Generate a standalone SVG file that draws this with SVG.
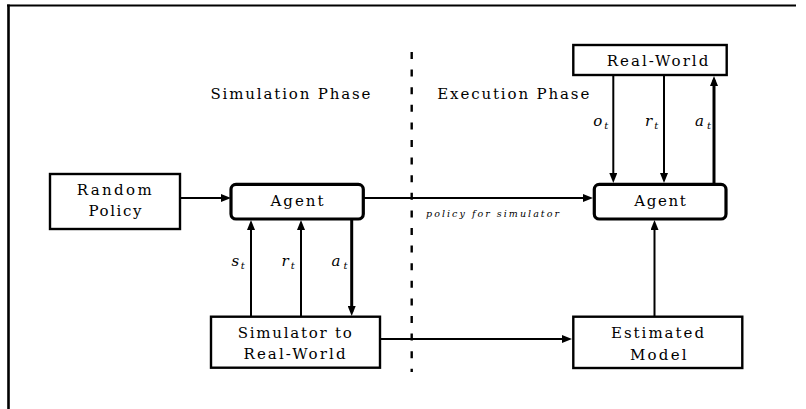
<svg xmlns="http://www.w3.org/2000/svg" width="806" height="409" viewBox="0 0 806 409">
  <style>
    .box { fill: #fff; stroke: #000; stroke-width: 2.4; }
    .agent { fill: #fff; stroke: #000; stroke-width: 3.2; }
    .lbl { font-family: "DejaVu Serif", "Liberation Serif", serif; font-size: 15px; fill: #000; text-anchor: middle; }
    .math { font-family: "DejaVu Serif", "Liberation Serif", serif; font-style: italic; font-size: 15px; fill: #000; }
    .sub { font-size: 10px; }
    .note { font-family: "DejaVu Serif", "Liberation Serif", serif; font-style: italic; font-size: 9.5px; fill: #000; }
    .wire { stroke: #000; stroke-width: 2; fill: none; }
    .wire.heavy { stroke-width: 3; }
    .frame { stroke: #000; fill: none; }
    .divider { stroke: #000; stroke-width: 2.4; stroke-dasharray: 7 10.6; fill: none; }
  </style>
  <defs>
    <marker id="head" markerUnits="userSpaceOnUse" markerWidth="10" markerHeight="8" refX="6" refY="4" orient="auto">
      <path d="M0,0 L10,4 L0,8 z" fill="#000"/>
    </marker>
  </defs>

  <rect x="0" y="0" width="806" height="409" fill="#fff"/>

  <!-- outer frame: top and left edges -->
  <g id="frame">
    <line class="frame" x1="7" y1="5.5" x2="796" y2="5.5" stroke-width="2"/>
    <line class="frame" x1="8.5" y1="4.5" x2="8.5" y2="409" stroke-width="2.6"/>
  </g>

  <!-- phase divider and headings -->
  <g id="phases">
    <line class="divider" x1="411.7" y1="52" x2="411.7" y2="372"/>
    <text class="lbl" x="290.5" y="99.3" textLength="160" lengthAdjust="spacing">Simulation Phase</text>
    <text class="lbl" x="513.3" y="99.3" textLength="152" lengthAdjust="spacing">Execution Phase</text>
  </g>

  <!-- connectors -->
  <g id="connectors">
    <!-- simulation side -->
    <line class="wire" x1="180" y1="198" x2="227" y2="198" marker-end="url(#head)"/>
    <line class="wire" x1="251" y1="317" x2="251" y2="224" marker-end="url(#head)"/>
    <line class="wire" x1="301" y1="317" x2="301" y2="224" marker-end="url(#head)"/>
    <line class="wire heavy" x1="351.7" y1="219" x2="351.7" y2="312" marker-end="url(#head)"/>
    <!-- across the divider -->
    <line class="wire" x1="363" y1="198" x2="589" y2="198" marker-end="url(#head)"/>
    <line class="wire" x1="380" y1="339" x2="568" y2="339" marker-end="url(#head)"/>
    <!-- execution side -->
    <line class="wire" x1="613.3" y1="75" x2="613.3" y2="179" marker-end="url(#head)"/>
    <line class="wire" x1="664" y1="75" x2="664" y2="179" marker-end="url(#head)"/>
    <line class="wire heavy" x1="714" y1="184" x2="714" y2="80" marker-end="url(#head)"/>
    <line class="wire" x1="654.5" y1="317" x2="654.5" y2="224" marker-end="url(#head)"/>

    <!-- connector labels -->
    <text class="note" x="492.5" y="217" textLength="133" lengthAdjust="spacing" text-anchor="middle">policy for simulator</text>

    <text class="math" x="231.5" y="266">s<tspan class="sub" dx="1.5" dy="3">t</tspan></text>
    <text class="math" x="281.5" y="266">r<tspan class="sub" dx="2" dy="3">t</tspan></text>
    <text class="math" x="331.5" y="266">a<tspan class="sub" dx="3" dy="3">t</tspan></text>

    <text class="math" x="593.3" y="126">o<tspan class="sub" dx="2" dy="3">t</tspan></text>
    <text class="math" x="645" y="126">r<tspan class="sub" dx="2" dy="3">t</tspan></text>
    <text class="math" x="695" y="126">a<tspan class="sub" dx="3" dy="3">t</tspan></text>
  </g>

  <g id="random-policy">
    <rect class="box" x="50" y="174" width="130" height="55"/>
    <text class="lbl" x="114.2" y="195" textLength="75" lengthAdjust="spacing">Random</text>
    <text class="lbl" x="115" y="216" textLength="53" lengthAdjust="spacing">Policy</text>
  </g>

  <g id="agent-sim">
    <rect class="agent" x="231" y="184.3" width="132.3" height="34.7" rx="5"/>
    <text class="lbl" x="297" y="206" textLength="53" lengthAdjust="spacing">Agent</text>
  </g>

  <g id="simulator">
    <rect class="box" x="211" y="316.7" width="169" height="51"/>
    <text class="lbl" x="294.7" y="338.3" textLength="114" lengthAdjust="spacing">Simulator to</text>
    <text class="lbl" x="294.5" y="359.3" textLength="102" lengthAdjust="spacing">Real-World</text>
  </g>

  <g id="real-world">
    <rect class="box" x="573.3" y="45" width="153.4" height="30"/>
    <text class="lbl" x="657.5" y="66" textLength="101.6" lengthAdjust="spacing">Real-World</text>
  </g>

  <g id="agent-exec">
    <rect class="agent" x="594.3" y="184.3" width="131.7" height="34.7" rx="5"/>
    <text class="lbl" x="660" y="206" textLength="51.4" lengthAdjust="spacing">Agent</text>
  </g>

  <g id="estimated-model">
    <rect class="box" x="573.3" y="316.7" width="169" height="51.3"/>
    <text class="lbl" x="657.5" y="338.3" textLength="93" lengthAdjust="spacing">Estimated</text>
    <text class="lbl" x="658.3" y="360" textLength="56.7" lengthAdjust="spacing">Model</text>
  </g>
</svg>
